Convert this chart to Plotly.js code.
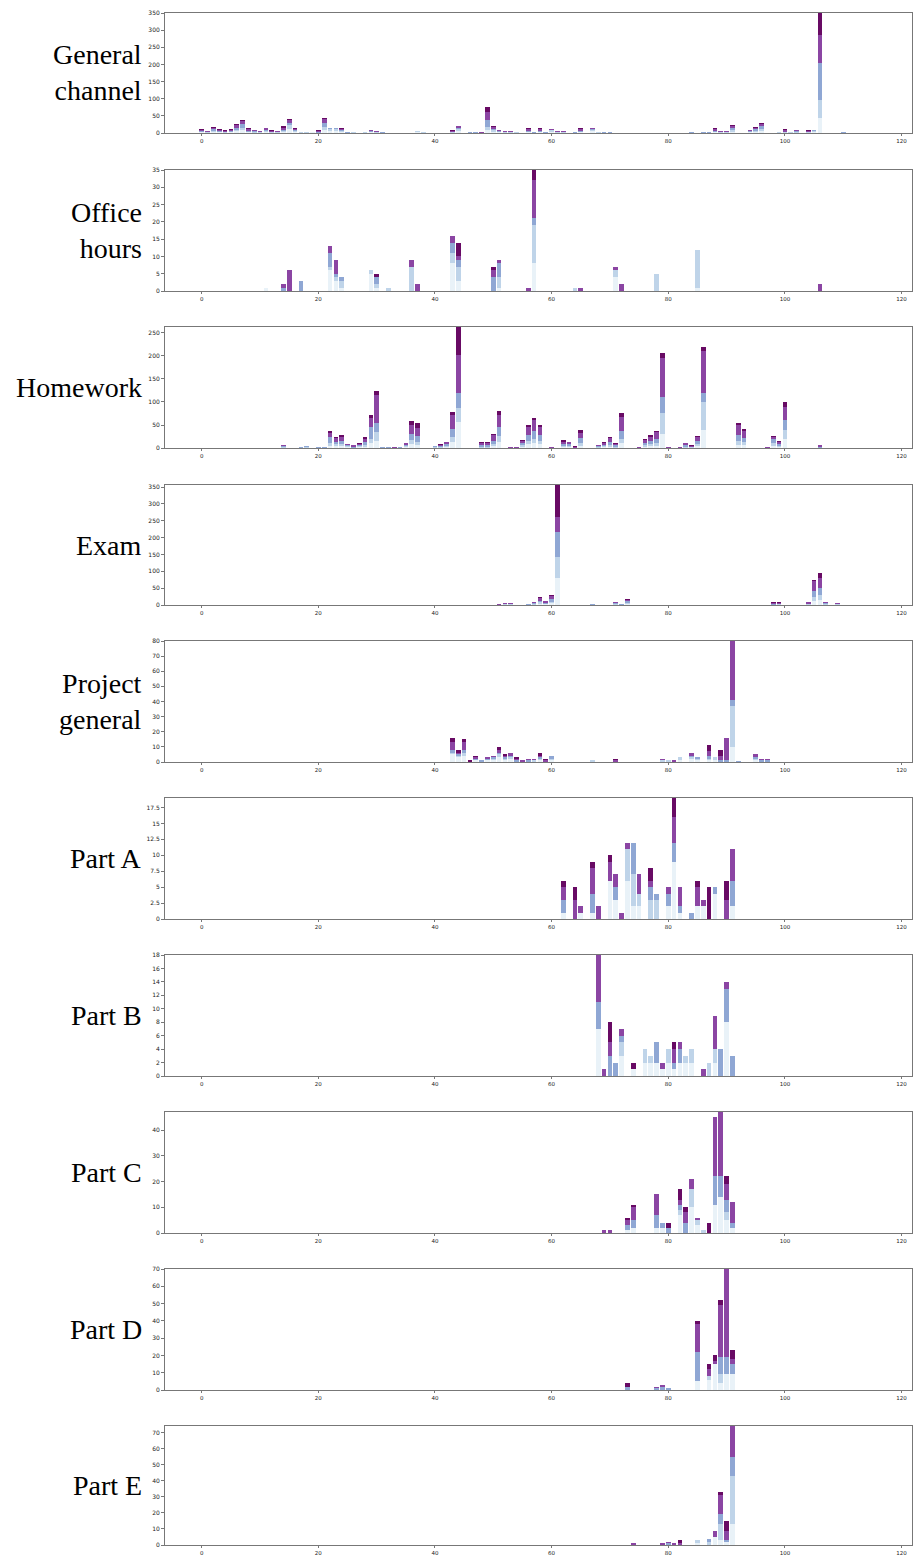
<!DOCTYPE html>
<html>
<head>
<meta charset="utf-8">
<script src="https://cdn.plot.ly/plotly-3.0.1.min.js"></script>
<style>html,body{margin:0;padding:0;background:#fff;}#chart{width:913px;height:1555px;}</style>
</head>
<body>
<div id="chart"></div>
<script>
// Each row: [position, whiteBlue, lightBlue, blue, purple, darkPurple]
const segmentNames = ['s1', 's2', 's3', 's4', 's5'];
const segmentColors = ['#e9f2f8', '#bfd4e9', '#8fa7d4', '#8b45a3', '#680a64'];
const xTickVals = [0, 20, 40, 60, 80, 100, 120];

const generalChannel = [
[0,2,2,2,4,2],[1,1,1,2,3,0],[2,3,4,4,5,2],[3,2,2,2,3,2],[4,1,1,2,3,1],[5,2,2,3,3,2],[6,5,5,6,7,2],[7,8,8,9,9,3],
[8,2,2,3,5,2],[9,1,2,2,3,2],[10,1,1,1,2,1],[11,3,3,3,5,2],[12,1,1,2,3,1],[13,1,1,1,3,1],[14,3,3,4,6,3],[15,12,10,8,9,3],
[16,4,3,3,3,1],[17,1,1,1,1,0],[18,1,1,0,0,0],[19,2,1,0,0,0],[20,0,1,2,3,3],[21,10,8,12,10,4],[22,5,6,3,0,0],[23,5,6,3,0,0],
[24,3,3,4,3,2],[25,0,1,1,0,0],[26,1,1,1,1,0],[27,0,0,1,0,0],[28,1,1,1,1,0],[29,2,2,2,3,1],[30,1,1,1,2,0],[31,0,1,1,0,0],
[32,0,0,1,0,0],[35,0,1,0,0,0],[37,3,3,1,0,0],[38,1,1,1,1,0],[39,0,0,1,0,0],[40,0,0,1,0,0],[41,0,0,0,1,0],[42,0,0,0,1,0],
[43,1,1,2,3,2],[44,6,5,4,5,1],[46,0,1,1,1,0],[47,0,1,1,1,0],[48,0,0,1,1,0],[49,8,10,20,24,15],[50,4,4,5,5,2],[51,2,2,2,2,0],
[52,1,1,2,1,0],[53,1,1,2,1,0],[54,1,1,1,1,0],[55,0,0,1,0,0],[56,2,2,3,5,2],[57,0,1,1,1,0],[58,2,2,3,5,2],[59,0,1,1,0,0],
[60,4,4,2,1,0],[61,1,1,2,2,0],[62,1,1,1,2,0],[63,0,0,1,0,0],[64,0,1,1,1,0],[65,2,2,3,5,2],[67,5,5,3,2,0],[68,1,1,1,1,0],
[69,0,1,1,1,0],[70,0,1,1,0,0],[71,0,0,1,0,0],[78,0,0,0,1,0],[83,0,0,1,0,0],[84,0,1,1,1,0],[86,0,1,1,0,0],[87,0,1,1,0,0],
[88,2,2,3,5,2],[89,1,1,1,2,0],[90,1,1,1,2,0],[91,4,5,6,6,2],[93,0,0,1,0,0],[94,2,2,2,2,0],[95,3,4,4,4,2],[96,6,7,7,6,2],
[98,0,0,1,0,0],[99,1,1,1,1,0],[100,1,1,2,4,4],[101,1,1,1,1,0],[102,1,2,2,3,1],[104,1,1,2,3,1],[105,3,3,2,0,0],
[106,45,50,110,80,65],[110,0,1,1,0,0]
];

const officeHours = [
[11,1,0,0,0,0],[14,0,0,1,1,0],[15,0,0,0,6,0],[17,0,0,3,0,0],[22,6,1,4,2,0],[23,3,1,1,4,0],[24,1,2,1,0,0],
[29,5,1,0,0,0],[30,1,1,2,0,1],[32,0,1,0,0,0],[36,0,7,0,2,0],[37,0,0,0,2,0],[43,8,3,3,2,0],[44,3,4,2,1,4],
[50,0,0,4,2,1],[51,1,3,4,1,0],[56,0,0,0,1,0],[57,8,11,2,11,3],[64,0,1,0,0,0],[65,0,0,0,1,0],[71,4,2,0,1,0],
[72,0,0,0,2,0],[78,0,5,0,0,0],[85,1,11,0,0,0],[106,0,0,0,2,0]
];

const homework = [
[10,0,0,1,0,0],[14,0,2,3,2,0],[16,0,0,1,0,0],[17,0,1,1,0,0],[18,1,1,2,0,0],[19,0,0,1,0,0],[20,0,1,2,0,0],[21,0,1,1,0,0],
[22,5,5,15,8,5],[23,4,4,6,7,4],[24,4,4,8,9,4],[25,2,2,3,2,0],[26,0,1,2,3,1],[27,2,2,3,2,1],[28,3,3,6,7,4],[29,10,10,25,20,7],
[30,15,20,20,60,9],[31,0,1,1,1,0],[32,0,1,1,1,0],[33,0,0,1,1,0],[34,0,1,1,1,0],[35,2,2,3,3,0],[36,8,10,12,20,8],[37,6,8,12,18,10],
[39,0,0,1,0,0],[40,1,1,2,1,0],[41,1,1,2,3,1],[42,2,2,4,5,1],[43,12,12,18,30,6],[44,57,29,33,83,61],[45,0,0,0,1,0],[46,0,0,0,1,0],
[47,0,0,0,1,0],[48,1,2,3,5,2],[49,1,2,3,5,2],[50,4,4,8,12,3],[51,12,14,20,26,8],[53,0,0,1,1,0],[54,0,0,1,1,0],[55,3,3,4,5,2],
[56,8,8,12,18,5],[57,10,10,16,24,6],[58,8,8,12,18,5],[60,0,0,1,1,0],[62,2,3,4,5,3],[63,2,3,4,4,1],[64,0,0,1,1,2],[65,5,6,10,12,6],
[66,0,0,0,1,0],[68,1,1,2,2,1],[69,2,2,3,4,2],[70,3,3,6,9,3],[71,1,2,3,3,2],[72,10,10,18,30,8],[75,0,0,1,1,0],[76,3,3,5,7,2],
[77,4,4,7,9,4],[78,5,6,9,14,4],[79,30,45,35,86,10],[80,0,0,1,1,0],[81,0,0,0,1,0],[82,0,0,1,1,0],[83,1,2,3,4,1],[84,1,1,1,2,1],
[85,4,5,6,8,3],[86,40,60,20,90,10],[91,0,0,1,0,0],[92,7,8,14,20,6],[93,6,6,10,15,5],[95,0,0,0,1,0],[96,0,0,0,1,0],[97,0,0,1,1,0],
[98,5,6,8,6,1],[99,2,2,4,5,2],[100,20,20,20,30,9],[106,0,1,2,4,0]
];

const exam = [
[51,0,0,1,1,0],[52,1,1,1,2,0],[53,1,1,2,1,0],[54,0,0,1,0,0],[56,0,1,1,0,0],[57,1,2,3,2,0],[58,4,4,5,9,3],[59,2,2,3,4,1],
[60,5,5,8,9,3],[61,81,60,75,45,95],[66,0,0,1,0,0],[67,0,1,1,2,0],[71,1,2,3,2,0],[72,0,1,1,1,0],[73,3,3,5,5,1],
[98,0,1,2,3,4],[99,1,1,2,3,1],[104,1,1,2,4,1],[105,12,12,18,28,5],[106,15,15,20,30,14],[107,1,2,2,4,1],[109,1,1,2,3,0]
];

const projectGeneral = [
[43,5,1,2,5,3],[44,3,1,1,1,2],[45,4,2,2,5,2],[46,0,0,0,0,1],[47,1,0,1,1,1],[48,0,0,1,0,0],[49,1,0,1,1,0],[50,1,1,1,1,0],
[51,3,2,1,2,2],[52,1,1,1,1,1],[53,2,1,1,2,0],[54,0,0,1,1,1],[55,0,0,0,1,0],[56,0,0,1,1,0],[57,0,1,0,1,0],[58,1,1,1,1,2],
[59,0,0,0,1,1],[60,1,1,2,0,0],[67,0,1,0,0,0],[71,0,0,0,1,1],[79,0,1,0,1,0],[80,0,1,0,0,0],[81,0,0,0,1,0],[82,1,2,0,0,0],
[84,2,1,1,2,0],[85,1,1,1,0,0],[87,1,1,2,3,4],[88,1,2,0,0,0],[89,0,0,1,3,4],[90,0,0,1,15,0],[91,10,27,4,39,0],
[92,0,0,0.5,0,0],[95,1,1,1,2,0],[96,0,0,1,1,0],[97,0,0,1,1,0]
];

const partA = [
[62,1,0,2,2,1],[64,0,0,0,3,2],[65,1,0,0,1,0],[67,1,0,3,4,1],[68,0,0,0,2,0],[70,6,0,0,3,1],[71,3,0,2,2,0],[72,0,0,0,1,0],
[73,6,5,0,1,0],[74,2,5,5,0,0],[75,2,2,0,3,0],[77,0,3,2,1,2],[78,0,3,1,0,0],[80,2,0,2,1,0],[81,9,0,3,4,3],[82,1,0,1,3,0],
[84,0,0,1,0,0],[85,2,0,0,3,1],[86,2,0,0,1,0],[87,0,0,0,0,5],[88,4,0,1,0,0],[90,0,0,0,3,3],[91,2,0,4,5,0]
];

const partB = [
[68,7,0,4,7,0],[69,0,0,0,1,0],[70,0,0,3,2,3],[71,0,0,2,0,0],[72,3,2,1,1,0],[74,1,0,0,0,1],[76,2,2,0,0,0],[77,2,1,0,0,0],
[78,2,0,3,0,0],[79,1,0,0,1,0],[80,2,2,0,0,0],[81,1,0,1,2,1],[82,2,0,2,1,0],[83,2,1,0,0,0],[84,2,2,0,0,0],[86,0,0,0,1,0],
[87,0,2,0,0,0],[88,2,2,0,5,0],[89,0,0,4,0,0],[90,8,0,5,1,0],[91,0,0,3,0,0]
];

const partC = [
[69,0,0,0,1,0],[70,0,0,0,1,0],[73,1,0,2,2,1],[74,2,0,3,5,1],[78,2,0,5,8,0],[79,2,0,2,0,0],[80,0,0,2,0,2],[82,7,2,2,2,4],
[83,0,0,4,4,2],[84,10,7,0,4,0],[85,3,2,0,1,0],[86,0,1,0,0,0],[87,0,0,0,0,4],[88,11,0,11,23,0],[89,14,0,8,25,0],
[90,5,3,5,6,3],[91,2,0,2,8,0]
];

const partD = [
[73,0,0,2,0,2],[78,0,0,1,1,0],[79,0,0,2,1,0],[80,0,0,1,0,0],[85,5,0,17,16,2],[87,6,2,0,4,3],[88,15,0,0,2,3],
[89,4,5,10,30,3],[90,9,0,10,51,0],[91,9,0,6,3,5]
];

const partE = [
[74,0,0,0,1,0],[79,0,0,0,1,0],[80,0,0,1,1,0],[81,0,0,0,1,0],[82,0,0,0,1,2],[85,1,2,0,0,0],[87,0,2,2,0,0],
[88,5,0,0,4,0],[89,3,10,6,12,2],[90,2,0,1,6,6],[91,13,30,12,19,0]
];

const panelLabels = ['General<br>channel', 'Office<br>hours', 'Homework', 'Exam', 'Project<br>general',
                     'Part A', 'Part B', 'Part C', 'Part D', 'Part E'];
const panelData = [generalChannel, officeHours, homework, exam, projectGeneral, partA, partB, partC, partD, partE];
const yTickSteps = [50, 5, 50, 50, 10, 2.5, 2, 10, 10, 10];

// pixel geometry of each panel (top, bottom) in the 1555px page
const panelPx = [[13,133],[170,291],[327,448],[485,605],[641,762],[798,919],[955,1076],[1112,1233],[1269,1390],[1426,1545]];
const W = 913, H = 1555, mL = 165, mR = 1, mT = 13, mB = 10;
const plotH = H - mT - mB;

const traces = [];
const layout = {
  width: W, height: H,
  margin: {l: mL, r: mR, t: mT, b: mB},
  paper_bgcolor: '#ffffff', plot_bgcolor: '#ffffff',
  showlegend: false, barmode: 'stack',
  annotations: []
};

const tickFont = {family: 'DejaVu Sans', size: 6, color: '#222'};
const xTickFont = {family: 'DejaVu Sans', size: 5.5, color: '#222'};

panelData.forEach((rows, i) => {
  const n = i + 1;
  const xa = 'x' + (n === 1 ? '' : n), ya = 'y' + (n === 1 ? '' : n);
  const xs = rows.map(r => r[0]);
  segmentNames.forEach((s, k) => {
    traces.push({
      type: 'bar', x: xs, y: rows.map(r => r[k + 1]), width: 0.8,
      xaxis: xa, yaxis: ya, name: s,
      marker: {color: segmentColors[k], line: {width: 0}},
      hoverinfo: 'x+y'
    });
  });
  const maxTotal = Math.max(...rows.map(r => r.slice(1).reduce((a, b) => a + b, 0)));
  const [top, bot] = panelPx[i];
  const d0 = (H - mB - bot) / plotH, d1 = (H - mB - top) / plotH;
  const xKey = 'xaxis' + (n === 1 ? '' : n), yKey = 'yaxis' + (n === 1 ? '' : n);
  layout[xKey] = {
    domain: [0, 1], anchor: ya, range: [-6.3, 121.8],
    tickvals: xTickVals, ticks: 'outside', ticklen: 2, tickwidth: 0.8, tickcolor: '#555',
    tickfont: xTickFont, showgrid: false, zeroline: false,
    showline: true, linecolor: '#777', linewidth: 1, mirror: true
  };
  layout[yKey] = {
    domain: [d0, d1], anchor: xa, range: [0, maxTotal],
    dtick: yTickSteps[i], tick0: 0, ticks: 'outside', ticklen: 3, tickwidth: 0.8, tickcolor: '#555',
    tickfont: tickFont, showgrid: false, zeroline: false,
    showline: true, linecolor: '#777', linewidth: 1, mirror: true
  };
  layout.annotations.push({
    xref: 'paper', yref: 'paper', x: (141 - mL) / (W - mL - mR), y: (d0 + d1) / 2,
    xanchor: 'right', yanchor: 'middle', align: 'right', showarrow: false, xshift: 3,
    text: panelLabels[i],
    font: {family: 'Liberation Serif, Times New Roman, serif', size: 28, color: '#000'}
  });
});

Plotly.newPlot('chart', traces, layout, {displayModeBar: false, staticPlot: true});
</script>
</body>
</html>
